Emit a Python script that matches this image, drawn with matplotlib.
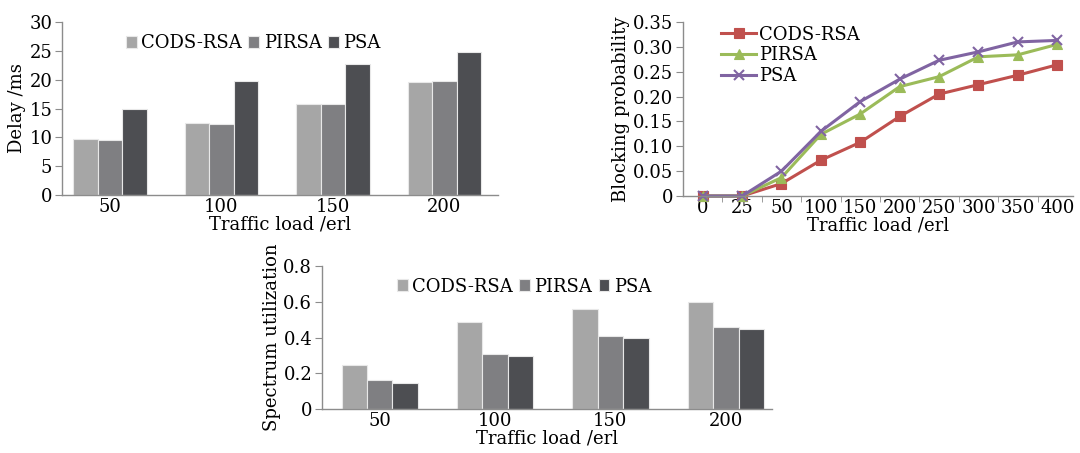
import matplotlib.pyplot as plt
import numpy as np

plt.rcParams['font.family'] = ['DejaVu Serif']

loads_bar = ['50', '100', '150', '200']
delay_cods = [9.7, 12.5, 15.7, 19.6]
delay_pirsa = [9.6, 12.3, 15.8, 19.8]
delay_psa = [14.9, 19.8, 22.8, 24.8]

loads_line = ['0', '25', '50', '100', '150', '200', '250', '300', '350', '400']
block_cods = [0, 0, 0.025, 0.072, 0.108, 0.160, 0.205, 0.224, 0.243, 0.264]
block_pirsa = [0, 0, 0.037, 0.124, 0.165, 0.220, 0.240, 0.280, 0.284, 0.305]
block_psa = [0, 0, 0.050, 0.130, 0.190, 0.235, 0.273, 0.290, 0.310, 0.313]

util_cods = [0.245, 0.485, 0.560, 0.600]
util_pirsa = [0.165, 0.310, 0.410, 0.460]
util_psa = [0.148, 0.297, 0.400, 0.447]

names = ['CODS-RSA', 'PIRSA', 'PSA']
grey_cols = ['#a6a6a6', '#7f7f82', '#4d4e52']
line_cols = ['#c0504d', '#9bbb59', '#8064a2']
FS = 13
AXC = '#8c8c8c'


def style_axes(ax):
    for s in ['top', 'right']:
        ax.spines[s].set_visible(False)
    for s in ['left', 'bottom']:
        ax.spines[s].set_color(AXC)
        ax.spines[s].set_linewidth(1.0)
    ax.tick_params(axis='both', labelsize=FS, colors='black', pad=2)
    ax.tick_params(axis='y', color=AXC, length=5, direction='out')


def bar_chart(ax, series, ylabel, ylim, yticks, ylabels, leg_anchor):
    x = np.arange(len(loads_bar))
    w = 0.22
    for i, (vals, name, col) in enumerate(zip(series, names, grey_cols)):
        ax.bar(x + (i - 1) * w, vals, w, color=col, edgecolor='#e8e8e8',
               linewidth=0.8, label=name)
    ax.set_xticks(x)
    ax.set_xticklabels(loads_bar)
    ax.tick_params(axis='x', length=0, pad=6)
    ax.set_ylim(*ylim)
    ax.set_yticks(yticks)
    ax.set_yticklabels(ylabels)
    ax.set_ylabel(ylabel, fontsize=FS, labelpad=2)
    ax.set_xlabel('Traffic load /erl', fontsize=FS, labelpad=0)
    style_axes(ax)
    ax.legend(loc='upper left', bbox_to_anchor=leg_anchor, ncol=3, frameon=False,
              fontsize=FS, handlelength=0.6, handleheight=0.6, handletextpad=0.25,
              columnspacing=0.35, borderaxespad=0)


fig = plt.figure(figsize=(10.8, 4.53), dpi=100)

ax1 = fig.add_axes([0.0574, 0.5695, 0.4037, 0.3819])
bar_chart(ax1, [delay_cods, delay_pirsa, delay_psa], 'Delay /ms', (0, 30),
          [0, 5, 10, 15, 20, 25, 30], ['0', '5', '10', '15', '20', '25', '30'],
          (0.13, 0.97))
ax1.set_xlim(-0.43, 3.48)

ax2 = fig.add_axes([0.6324, 0.5673, 0.3611, 0.3841])
xl = np.arange(len(loads_line))
markers = ['s', '^', 'x']
for vals, name, col, m in zip([block_cods, block_pirsa, block_psa], names, line_cols, markers):
    ax2.plot(xl, vals, color=col, linewidth=2.2, marker=m, markersize=7,
             markeredgewidth=1.5 if m == 'x' else 0.8, label=name, clip_on=False)
ax2.set_xlim(-0.5, 9.4)
ax2.set_ylim(0, 0.35)
ax2.set_xticks(xl)
ax2.set_xticklabels(loads_line)
ax2.set_xticks(np.arange(0.5, 9, 1), minor=True)
ax2.tick_params(axis='x', which='major', length=0, pad=6)
ax2.tick_params(axis='x', which='minor', length=4, color=AXC, direction='out')
ax2.set_yticks(np.arange(0, 0.36, 0.05))
ax2.set_yticklabels(['0'] + ['%.2f' % v for v in np.arange(0.05, 0.36, 0.05)])
ax2.set_ylabel('Blocking probability', fontsize=FS, labelpad=2)
ax2.set_xlabel('Traffic load /erl', fontsize=FS, labelpad=0)
style_axes(ax2)
ax2.legend(loc='upper left', bbox_to_anchor=(0.08, 1.02), frameon=False, fontsize=FS,
           handlelength=1.9, handletextpad=0.2, labelspacing=0.15, borderaxespad=0)

ax3 = fig.add_axes([0.2981, 0.0971, 0.4167, 0.3157])
bar_chart(ax3, [util_cods, util_pirsa, util_psa], 'Spectrum utilization', (0, 0.8),
          [0, 0.2, 0.4, 0.6, 0.8], ['0', '0.2', '0.4', '0.6', '0.8'], (0.15, 0.97))
ax3.set_xlim(-0.5, 3.4)

fig.savefig('out.png', dpi=100)
